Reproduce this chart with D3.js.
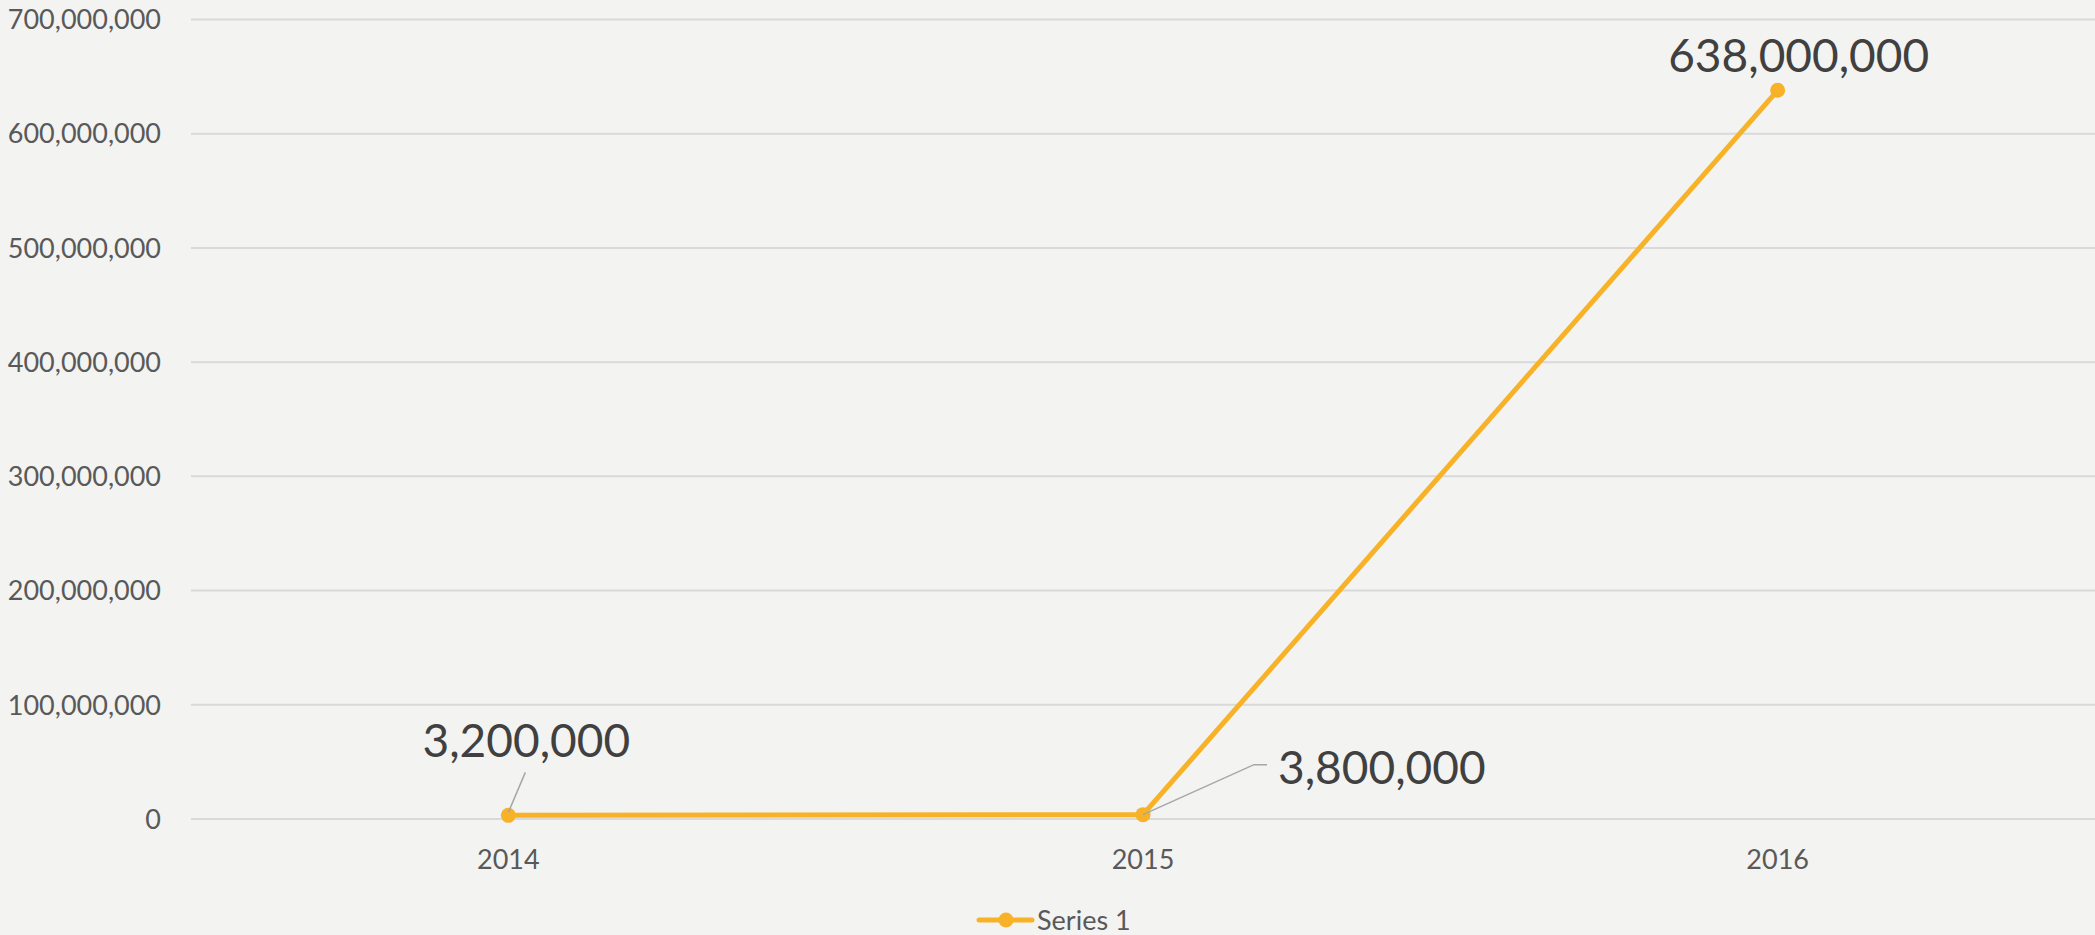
<!DOCTYPE html>
<html>
<head>
<meta charset="utf-8">
<script src="https://cdn.jsdelivr.net/npm/d3@7"></script>
<style>
    html, body { margin: 0; padding: 0; background: #f3f3f1; }
    svg { display: block; }
    .tick-label { font-family: Lato, "Open Sans", sans-serif; fill: #595959; }
    .data-label { font-family: Lato, "Open Sans", sans-serif; fill: #404040; }
</style>
</head>
<body>
<div id="chart"></div>
<script>
// Chart data
const years = ['2014', '2015', '2016'];
const seriesName = 'Series 1';
const seriesValues = [3200000, 3800000, 638000000];
const yTicks = [0, 100000000, 200000000, 300000000, 400000000, 500000000, 600000000, 700000000];

const W = 2095, H = 935;
const plot = { left: 191, right: 2095, top: 19.5, bottom: 819 };
const color = '#f7b228';

const svg = d3.select('#chart')
    .append('svg')
    .attr('width', W)
    .attr('height', H);

svg.append('rect')
    .attr('width', W)
    .attr('height', H)
    .attr('fill', '#f3f3f1');

const x = d3.scaleBand()
    .domain(years)
    .range([plot.left, plot.right]);

const y = d3.scaleLinear()
    .domain([0, 700000000])
    .range([plot.bottom, plot.top]);

const fmt = d3.format(',');

// Gridlines
svg.append('g')
    .selectAll('line')
    .data(yTicks)
    .join('line')
    .attr('x1', plot.left)
    .attr('x2', plot.right)
    .attr('y1', d => y(d))
    .attr('y2', d => y(d))
    .attr('stroke', '#d9d9d9')
    .attr('stroke-width', 2);

// Y axis labels
svg.append('g')
    .selectAll('text')
    .data(yTicks)
    .join('text')
    .attr('class', 'tick-label')
    .attr('x', 161)
    .attr('y', d => y(d))
    .attr('dy', '0.36em')
    .attr('text-anchor', 'end')
    .attr('font-size', 27)
    .text(d => fmt(d));

// X axis labels
svg.append('g')
    .selectAll('text')
    .data(years)
    .join('text')
    .attr('class', 'tick-label')
    .attr('x', d => x(d) + x.bandwidth() / 2)
    .attr('y', 869)
    .attr('text-anchor', 'middle')
    .attr('font-size', 27)
    .text(d => d);

const cx = (d, i) => x(years[i]) + x.bandwidth() / 2;

// Series line
const line = d3.line()
    .x((d, i) => cx(d, i))
    .y(d => y(d));

svg.append('path')
    .datum(seriesValues)
    .attr('fill', 'none')
    .attr('stroke', color)
    .attr('stroke-width', 5)
    .attr('stroke-linejoin', 'round')
    .attr('d', line);

svg.append('g')
    .selectAll('circle')
    .data(seriesValues)
    .join('circle')
    .attr('cx', (d, i) => cx(d, i))
    .attr('cy', d => y(d))
    .attr('r', 7.5)
    .attr('fill', color);

// Data labels (offsets relative to each point) + leader lines
const labelPlacement = [
    { dx: 18, dy: -58, anchor: 'middle', leader: [[0, -3], [17, -43]] },
    { dx: 135, dy: -31, anchor: 'start', leader: [[0, 0], [111, -50], [124, -50]] },
    { dx: 21, dy: -18, anchor: 'middle', leader: null }
];

seriesValues.forEach((v, i) => {
    const px = cx(v, i), py = y(v);
    const p = labelPlacement[i];
    if (p.leader) {
        svg.append('path')
            .attr('d', d3.line()(p.leader.map(([a, b]) => [px + a, py + b])))
            .attr('fill', 'none')
            .attr('stroke', '#a6a6a6')
            .attr('stroke-width', 1.5);
    }
    svg.append('text')
        .attr('class', 'data-label')
        .attr('x', px + p.dx)
        .attr('y', py + p.dy)
        .attr('text-anchor', p.anchor)
        .attr('font-size', 46)
        .text(fmt(v));
});

// Legend
const legend = svg.append('g').attr('transform', 'translate(979,920)');
legend.append('line')
    .attr('x1', 0).attr('x2', 53)
    .attr('y1', 0).attr('y2', 0)
    .attr('stroke', color)
    .attr('stroke-width', 5)
    .attr('stroke-linecap', 'round');
legend.append('circle')
    .attr('cx', 27).attr('cy', 0)
    .attr('r', 7.5)
    .attr('fill', color);
legend.append('text')
    .attr('class', 'tick-label')
    .attr('x', 58)
    .attr('y', 0)
    .attr('dy', '0.36em')
    .attr('font-size', 27)
    .text(seriesName);
</script>
</body>
</html>
